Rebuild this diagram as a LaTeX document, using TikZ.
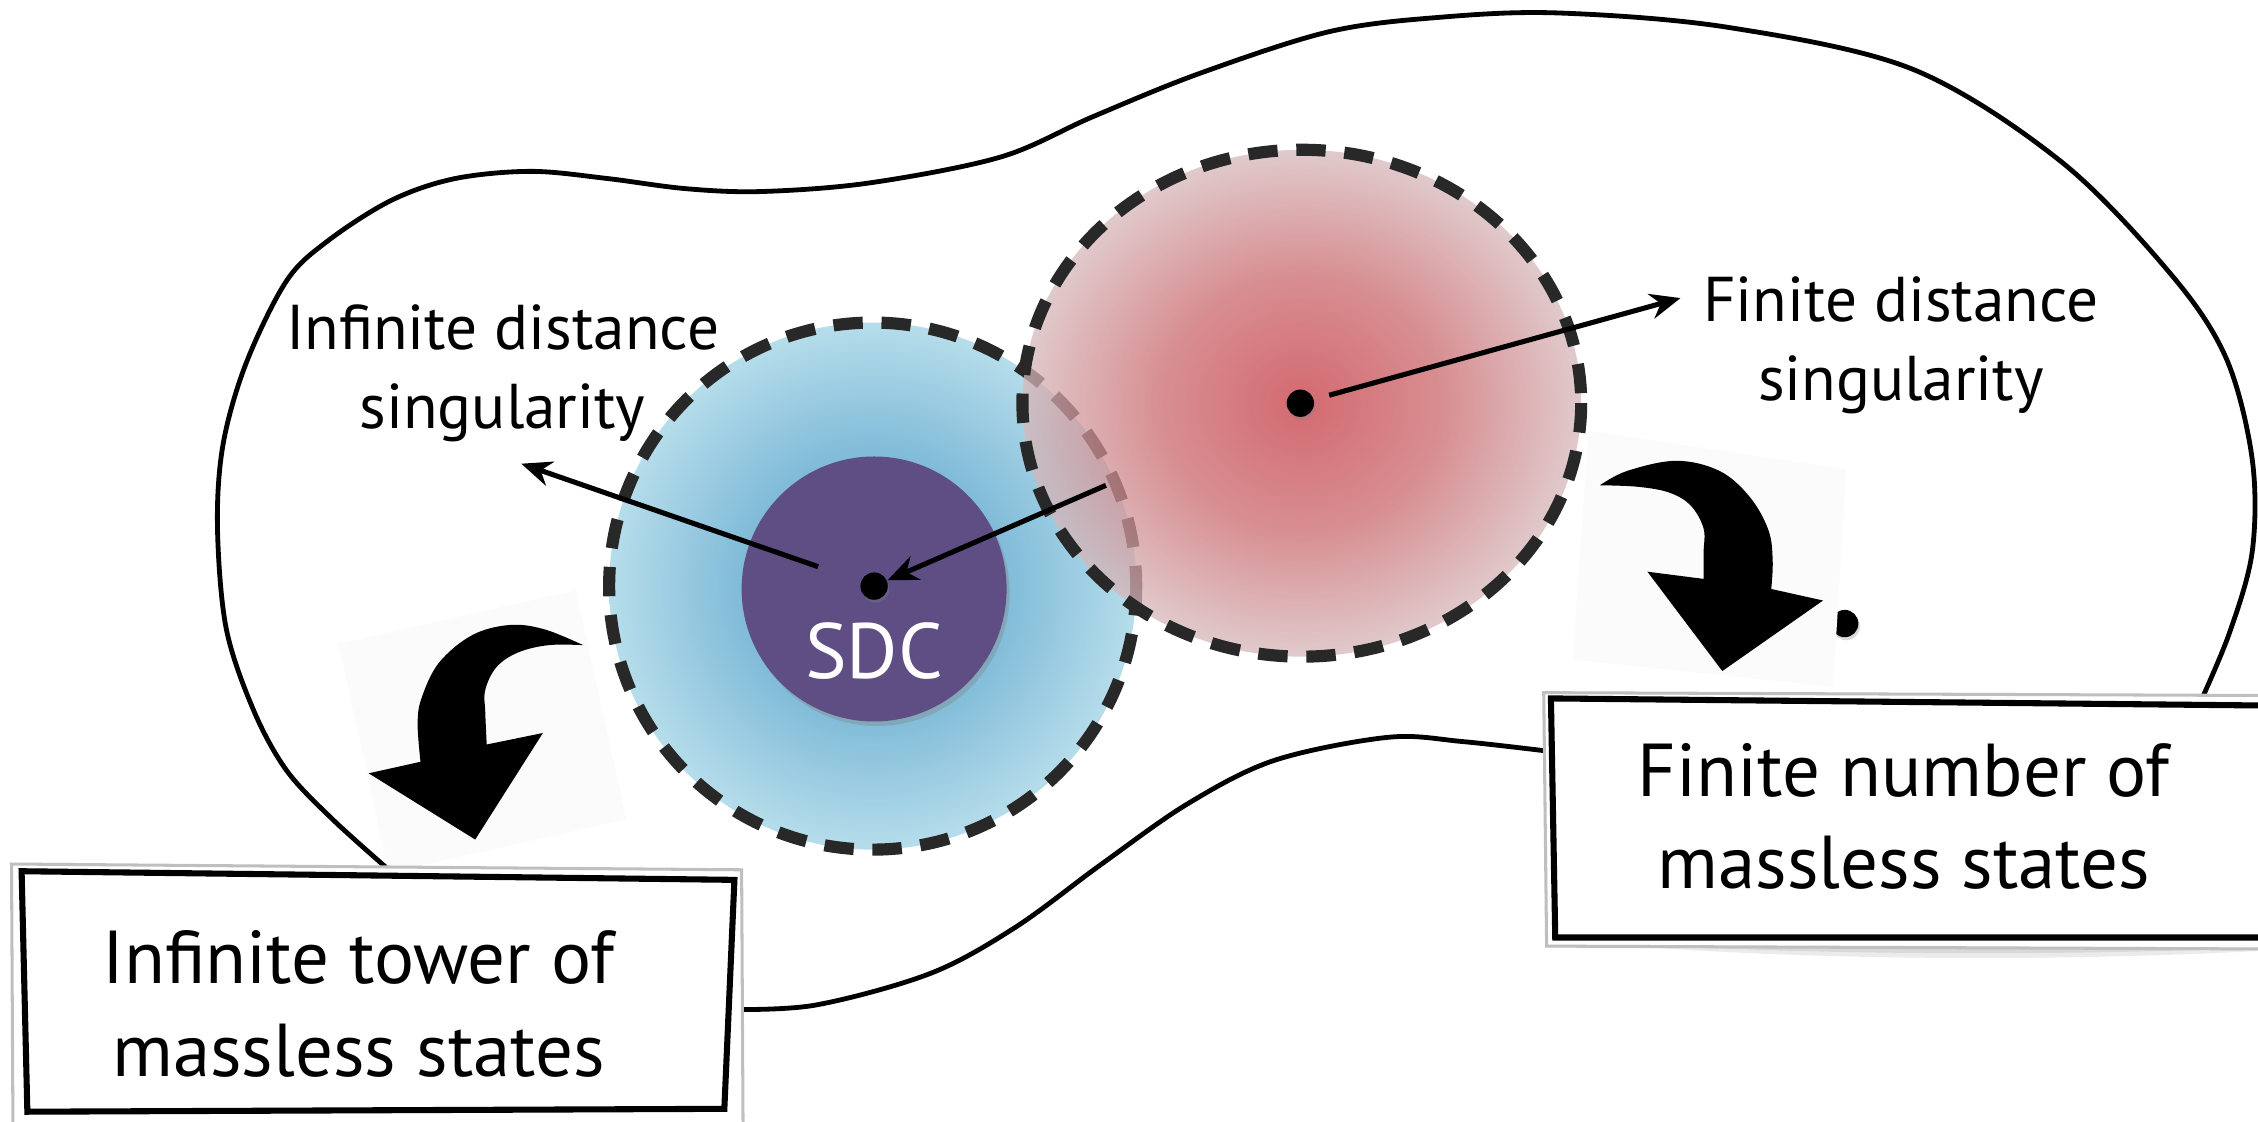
\documentclass[tikz,border=0pt]{standalone}
\usepackage{fontspec}
\setmainfont{PT Sans}
\usepackage{tikz}
\usetikzlibrary{arrows.meta,shadows}

\definecolor{dashgray}{RGB}{40,40,40}
\definecolor{sdcpurple}{RGB}{94,78,132}
\definecolor{bluein}{RGB}{105,170,208}
\definecolor{bluemid}{RGB}{128,187,216}
\definecolor{blueout}{RGB}{182,221,235}
\definecolor{redin}{RGB}{196,56,64}
\definecolor{redmid}{RGB}{202,104,108}
\definecolor{redout}{RGB}{214,184,187}

\pgfdeclareradialshading{bluedisc}{\pgfpoint{0bp}{0bp}}{color(0bp)=(bluein); color(12.5bp)=(bluemid); color(25bp)=(blueout); color(50bp)=(blueout)}
\pgfdeclareradialshading{reddisc}{\pgfpoint{0bp}{0bp}}{color(0bp)=(redin); color(12.5bp)=(redmid); color(25bp)=(redout); color(50bp)=(redout)}

\tikzset{
  zone/.style={draw=dashgray, line width=2.4pt, dash pattern=on 5.8pt off 3.7pt},
  dot/.style={circle, fill=black, inner sep=0pt, minimum size=5.4pt,
    drop shadow={shadow xshift=0.3pt, shadow yshift=-0.6pt, opacity=0.3}},
  lbl/.style={font=\fontsize{12.5}{15.6}\selectfont, align=center, inner sep=0pt},
  boxtext/.style={font=\fontsize{14.8}{18.3}\selectfont, align=center, inner sep=0pt},
  pointer/.style={black, line width=1pt, -{Stealth[length=6pt, width=5pt]}}
}

\begin{document}
\begin{tikzpicture}[x=0.01cm, y=-0.01cm]
        \useasboundingbox (0,0) rectangle (1568,779);

        % moduli space
        \draw [black,line width=0.95pt] plot[smooth, tension=0.55] coordinates {(270,604) (231,569) (199,535) (176,493) (157,436) (151,365) (155,308) (171,252) (199,195) (228,167) (272,139) (316,124) (369,119) (422,124) (476,131) (529,133) (604,127) (695,109) (759,81) (833,51) (923,22) (1000,12) (1082,9) (1200,19) (1328,48) (1431,112) (1508,191) (1546,249) (1564,319) (1564,383) (1548,440) (1526,492)};
        \draw [black,line width=0.95pt] plot[smooth, tension=0.55] coordinates {(505,701) (566,698) (646,676) (705,644) (765,600) (825,558) (885,528) (964,512) (1016,515) (1078,522)};

        % infinite distance region
        \shade [shading=bluedisc] (606,407) circle [radius=183];
        \draw [zone] (606,407) circle [radius=183];
        \fill [sdcpurple, drop shadow={shadow xshift=0.6pt, shadow yshift=-0.9pt, opacity=0.35}] (607,409) circle [radius=92];
        \node [white, font=\fontsize{15.5}{18}\selectfont, inner sep=0pt] (sdc) at (607,452) {SDC};

        % finite distance region
        \shade [shading=reddisc, fill opacity=0.75] (904,280) ellipse [x radius=194, y radius=176];
        \draw [zone] (904,280) ellipse [x radius=194, y radius=176];

        \node [dot] (sdcdot) at (607,407) {};
        \node [dot] (reddot) at (903,280) {};
        \node [dot] (enddot) at (1281,433) {};

        \coordinate (idtip) at (362,322);
        \coordinate (fdtip) at (1167,207);
        \coordinate (overlap) at (768,337);
        \draw [pointer, shorten <=8.8pt] (sdcdot) -- (idtip);
        \draw [pointer] (overlap) -- (sdcdot);
        \draw [pointer, shorten <=3pt] (reddot) -- (fdtip);

        \node [lbl] (idlbl) at (349,259) {Infinite distance\\singularity};
        \node [lbl] (fdlbl) at (1320,240) {Finite distance\\singularity};

        % curved arrows
        \fill [black!1.5] (235,447) -- (400,410) -- (435,569) -- (270,606) -- cycle;
        \fill [black!1.5] (1103,299) -- (1282,326) -- (1273,477) -- (1092,458) -- cycle;
        \fill [black] plot[smooth, tension=0.6] coordinates {(405,448) (378,437) (354,434) (328,441) (305,460) (293,484) (290,502) (292,529)} -- (256,537) -- (330,583) -- (377,509) -- plot[smooth, tension=0.6] coordinates {(338,517) (337,495) (337,479) (345,463) (360,453) (381,448) (405,448)} -- cycle;
        \fill [black] plot[smooth, tension=0.6] coordinates {(1111,337) (1130,327) (1164,320) (1194,327) (1215,345) (1228,368) (1231,389) (1230,409)} -- (1266,417) -- (1196,466) -- (1144,397) -- plot[smooth, tension=0.6] coordinates {(1183,402) (1183,384) (1183,367) (1174,351) (1159,342) (1137,338) (1111,337)} -- cycle;

        % boxes
        \fill [white, draw=black!25, line width=0.6pt] (8,600) -- (515,604) -- (516,784) -- (9,784) -- cycle;
        \draw [black, line width=1.2pt] (15,605) -- (510,611) -- (503,770) -- (19,772) -- cycle;
        \node [boxtext] (tower) at (249,697) {Infinite tower of\\massless states};

        \foreach \d in {4,8,12,16}
            \fill [black, opacity=0.08] (1078,652) .. controls (1230,652+\d) and (1430,652+\d) .. (1575,652+0.5*\d) -- (1575,652) -- cycle;
        \fill [white, draw=black!25, line width=0.6pt] (1072,481) -- (1580,483) -- (1580,659) -- (1074,657) -- cycle;
        \draw [black, line width=1.2pt] (1077,485) -- (1580,490) -- (1580,651) -- (1080,651) -- cycle;
        \node [boxtext] (finite) at (1322,567) {Finite number of\\massless states};
    \end{tikzpicture}
\end{document}
